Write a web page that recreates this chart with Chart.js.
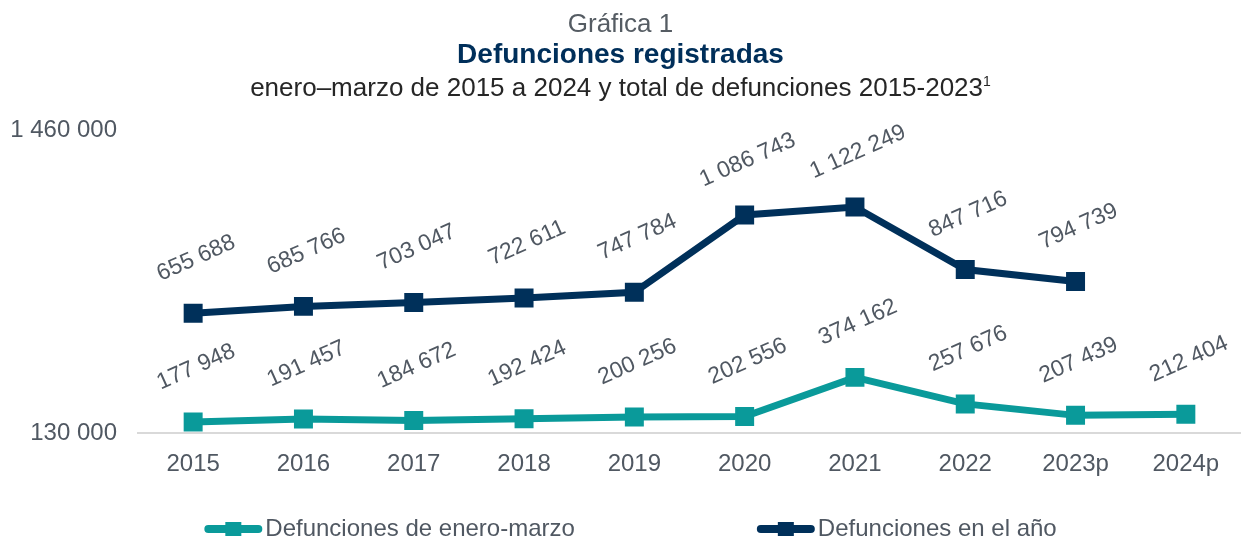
<!DOCTYPE html>
<html>
<head>
<meta charset="utf-8">
<script src="https://cdn.jsdelivr.net/npm/chart.js@4/dist/chart.umd.min.js"></script>
<style>
  body { margin: 0; background: #fff; }
  #wrap { position: relative; width: 1241px; height: 540px; font-family: "Liberation Sans", Arial, sans-serif; }
  .t { position: absolute; left: 0; width: 1241px; text-align: center; white-space: nowrap; }
  #t1 { top: 10px; font-size: 26px; line-height: 26px; color: #555c63; }
  #t2 { top: 40px; font-size: 28px; line-height: 28px; font-weight: bold; color: #002f5a; }
  #t3 { top: 74px; font-size: 26px; line-height: 26px; color: #262626; }
  #t3 sup { font-size: 14px; vertical-align: 10px; line-height: 0; }
  canvas { position: absolute; left: 0; top: 0; }
</style>
</head>
<body>
<div id="wrap">
  <canvas id="chart" width="1241" height="540"></canvas>
  <div class="t" id="t1">Gráfica 1</div>
  <div class="t" id="t2">Defunciones registradas</div>
  <div class="t" id="t3">enero–marzo de 2015 a 2024 y total de defunciones 2015-2023<sup>1</sup></div>
</div>
<script>
// Datos
const anios = ["2015", "2016", "2017", "2018", "2019", "2020", "2021", "2022", "2023p", "2024p"];
const eneroMarzo = [177948, 191457, 184672, 192424, 200256, 202556, 374162, 257676, 207439, 212404];
const totalAnio = [655688, 685766, 703047, 722611, 747784, 1086743, 1122249, 847716, 794739, null];
const ejeY = [130000, 1460000];

const colorTeal = "#0a9a9a";
const colorNavy = "#00305a";
const gris = "#505862";
const fuente = "'Liberation Sans', Arial, sans-serif";

// separador de miles con espacio
function formato(v) {
    return String(v).replace(/\B(?=(\d{3})+(?!\d))/g, " ");
}

// Etiquetas de datos giradas
const etiquetas = {
    id: "etiquetas",
    afterDatasetsDraw(chart) {
        const ctx = chart.ctx;
        ctx.save();
        ctx.font = "23px " + fuente;
        ctx.fillStyle = gris;
        ctx.textAlign = "center";
        ctx.textBaseline = "middle";
        chart.data.datasets.forEach((ds, i) => {
            const meta = chart.getDatasetMeta(i);
            meta.data.forEach((pt, j) => {
                if (ds.data[j] == null) return;
                ctx.save();
                ctx.translate(pt.x + 3, pt.y - 55);
                ctx.rotate(-24 * Math.PI / 180);
                ctx.fillText(formato(ds.data[j]), 0, 0);
                ctx.restore();
            });
        });
        ctx.restore();
    }
};

// Leyenda dibujada a mano (linea + cuadro)
const leyenda = {
    id: "leyenda",
    afterDraw(chart) {
        const ctx = chart.ctx;
        ctx.save();
        ctx.font = "24px " + fuente;
        ctx.textBaseline = "middle";
        const items = [chart.data.datasets[0], chart.data.datasets[1]];
        const marca = 58, hueco = 3, sep = 182;
        const anchos = items.map(d => marca + hueco + ctx.measureText(d.label).width);
        const total = anchos[0] + anchos[1] + sep;
        let x = (chart.width - total) / 2 + 10;
        const y = 529;
        items.forEach((d, i) => {
            ctx.strokeStyle = d.borderColor;
            ctx.lineWidth = 8;
            ctx.lineCap = "round";
            ctx.beginPath();
            ctx.moveTo(x + 4, y);
            ctx.lineTo(x + marca - 4, y);
            ctx.stroke();
            ctx.fillStyle = d.borderColor;
            ctx.fillRect(x + marca / 2 - 8, y - 7, 16, 14);
            ctx.fillStyle = gris;
            ctx.fillText(d.label, x + marca + hueco, y);
            x += anchos[i] + sep;
        });
        ctx.restore();
    }
};

new Chart(document.getElementById("chart"), {
    type: "line",
    data: {
        labels: anios,
        datasets: [
            {
                label: "Defunciones de enero-marzo",
                data: eneroMarzo,
                borderColor: colorTeal,
                backgroundColor: colorTeal,
                borderWidth: 7,
                pointStyle: "rect",
                pointRadius: 12,
                pointBorderWidth: 2,
                pointHoverRadius: 12,
                tension: 0
            },
            {
                label: "Defunciones en el año",
                data: totalAnio,
                borderColor: colorNavy,
                backgroundColor: colorNavy,
                borderWidth: 7,
                pointStyle: "rect",
                pointRadius: 12,
                pointBorderWidth: 2,
                pointHoverRadius: 12,
                tension: 0
            }
        ]
    },
    options: {
        responsive: false,
        animation: false,
        layout: { autoPadding: false, padding: { top: 130, right: 0, bottom: 0, left: 0 } },
        plugins: {
            legend: { display: false },
            title: { display: false },
            tooltip: { enabled: false }
        },
        scales: {
            x: {
                offset: true,
                grid: { display: false, drawTicks: false },
                border: { display: true, color: "#d9d9d9", width: 2 },
                ticks: { color: gris, font: { size: 24, family: fuente }, padding: 17, maxRotation: 0 },
                afterFit(scale) { scale.height = 107; }
            },
            y: {
                min: ejeY[0],
                max: ejeY[1],
                grid: { display: false, drawTicks: false },
                border: { display: false },
                afterBuildTicks(scale) { scale.ticks = ejeY.map(v => ({ value: v })); },
                afterFit(scale) { scale.width = 138; },
                ticks: {
                    color: gris,
                    font: { size: 24, family: fuente },
                    padding: 21,
                    callback: v => formato(v)
                }
            }
        }
    },
    plugins: [etiquetas, leyenda]
});
</script>
</body>
</html>
